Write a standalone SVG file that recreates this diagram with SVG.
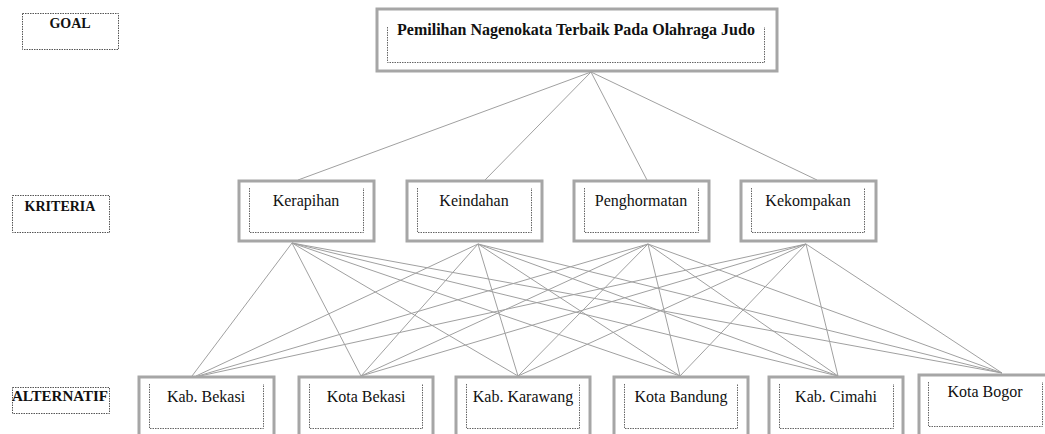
<svg xmlns="http://www.w3.org/2000/svg" width="1045" height="434" viewBox="0 0 1045 434" font-family="'Liberation Serif', 'DejaVu Serif', serif">
<style>
.box{fill:#fff;stroke:#a6a6a6;stroke-width:3}
.dot{fill:none;stroke:#666;stroke-width:1;stroke-dasharray:1.5 1}
.lbl{fill:none;stroke:#555;stroke-width:1;stroke-dasharray:1.5 1}
text{font-family:'Liberation Serif','DejaVu Serif',serif;fill:#111;text-anchor:middle}
.t{font-size:16px}
.b{font-weight:bold;font-size:14px}
.g{font-weight:bold;font-size:16px}
.c line{stroke:#a0a0a0;stroke-width:1}
</style>
<rect width="1045" height="434" fill="#fff"/>
<g id="label-goal"><rect class="lbl" x="22.5" y="13.5" width="96" height="36"/><text class="b" x="70" y="28">GOAL</text></g>
<g id="label-kriteria"><rect class="lbl" x="12.5" y="195.5" width="97" height="37"/><text class="b" x="60" y="211">KRITERIA</text></g>
<g id="label-alternatif"><rect class="lbl" x="12.5" y="387.5" width="97" height="26"/><text class="b" x="60" y="401" textLength="96" lengthAdjust="spacingAndGlyphs">ALTERNATIF</text></g>
<g class="c" id="connectors">
<line x1="591" y1="72" x2="298" y2="180"/>
<line x1="591" y1="72" x2="485" y2="180"/>
<line x1="591" y1="72" x2="647" y2="180"/>
<line x1="591" y1="72" x2="817" y2="180"/>
<line x1="292" y1="243" x2="192" y2="376"/>
<line x1="292" y1="243" x2="361" y2="376"/>
<line x1="292" y1="243" x2="518" y2="376"/>
<line x1="292" y1="243" x2="680" y2="376"/>
<line x1="292" y1="243" x2="838" y2="376"/>
<line x1="292" y1="243" x2="1002" y2="373"/>
<line x1="478" y1="244" x2="196" y2="376"/>
<line x1="478" y1="244" x2="361" y2="376"/>
<line x1="478" y1="244" x2="518" y2="376"/>
<line x1="478" y1="244" x2="680" y2="376"/>
<line x1="478" y1="244" x2="838" y2="376"/>
<line x1="478" y1="244" x2="1002" y2="373"/>
<line x1="648" y1="244" x2="198" y2="376"/>
<line x1="648" y1="244" x2="361" y2="376"/>
<line x1="648" y1="244" x2="518" y2="376"/>
<line x1="648" y1="244" x2="680" y2="376"/>
<line x1="648" y1="244" x2="838" y2="376"/>
<line x1="648" y1="244" x2="1002" y2="373"/>
<line x1="806" y1="244" x2="200" y2="376"/>
<line x1="806" y1="244" x2="361" y2="376"/>
<line x1="806" y1="244" x2="518" y2="376"/>
<line x1="806" y1="244" x2="680" y2="376"/>
<line x1="806" y1="244" x2="838" y2="376"/>
<line x1="806" y1="244" x2="1002" y2="373"/>
</g>
<g id="goal"><rect class="box" x="377" y="9" width="400" height="62"/><path class="dot" d="M387.5 27V62.5H764.5V27"/><text class="g" x="576" y="35">Pemilihan Nagenokata Terbaik Pada Olahraga Judo</text></g>
<g id="k-kerapihan"><rect class="box" x="239" y="181" width="135" height="60"/><path class="dot" d="M249.5 188V232.5H363.5V188"/><text class="t" x="306" y="206">Kerapihan</text></g>
<g id="k-keindahan"><rect class="box" x="407" y="181" width="135" height="60"/><path class="dot" d="M417.5 188V232.5H531.5V188"/><text class="t" x="474" y="206">Keindahan</text></g>
<g id="k-penghormatan"><rect class="box" x="574" y="181" width="135" height="60"/><path class="dot" d="M584.5 188V232.5H698.5V188"/><text class="t" x="641" y="206">Penghormatan</text></g>
<g id="k-kekompakan"><rect class="box" x="741" y="181" width="135" height="60"/><path class="dot" d="M751.5 188V232.5H864.5V188"/><text class="t" x="808" y="206">Kekompakan</text></g>
<g id="a-kab-bekasi"><rect class="box" x="139" y="377" width="135" height="70"/><path class="dot" d="M149.5 384V428.5H263.5V384"/><text class="t" x="206" y="402">Kab. Bekasi</text></g>
<g id="a-kota-bekasi"><rect class="box" x="299" y="377" width="134" height="70"/><path class="dot" d="M309.5 384V428.5H422.5V384"/><text class="t" x="366" y="402">Kota Bekasi</text></g>
<g id="a-kab-karawang"><rect class="box" x="456" y="377" width="134" height="70"/><path class="dot" d="M466.5 384V428.5H579.5V384"/><text class="t" x="523" y="402">Kab. Karawang</text></g>
<g id="a-kota-bandung"><rect class="box" x="614" y="377" width="134" height="70"/><path class="dot" d="M624.5 384V428.5H737.5V384"/><text class="t" x="681" y="402">Kota Bandung</text></g>
<g id="a-kab-cimahi"><rect class="box" x="769" y="377" width="134" height="70"/><path class="dot" d="M779.5 384V428.5H893.5V384"/><text class="t" x="836" y="402">Kab. Cimahi</text></g>
<g id="a-kota-bogor"><rect class="box" x="919" y="375" width="134" height="70"/><path class="dot" d="M928.5 382V426.5H1042.5V382"/><text class="t" x="985" y="397">Kota Bogor</text></g>
</svg>
